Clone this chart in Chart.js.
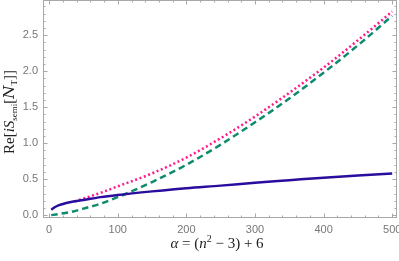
<!DOCTYPE html>
<html><head><meta charset="utf-8">
<script src="https://cdn.jsdelivr.net/npm/chart.js@4.4.1/dist/chart.umd.min.js"></script>
<style>html,body{margin:0;padding:0;background:#fff}#wrap{width:399px;height:261px}</style>
</head><body><div id="wrap"><canvas id="c" width="399" height="261"></canvas></div>
<script>
const alphaVals = [3, 10, 20, 30, 50, 75, 100, 150, 200, 250, 300, 350, 400, 450, 500];
const blueVals  = [0.075, 0.12, 0.155, 0.18, 0.21, 0.25, 0.28, 0.33, 0.375, 0.41, 0.45, 0.485, 0.52, 0.55, 0.58];
const greenVals = [0.0, 0.01, 0.025, 0.04, 0.09, 0.16, 0.25, 0.46, 0.70, 0.98, 1.29, 1.62, 1.98, 2.36, 2.77];
const pinkAlpha = [37, 50, 75, 100, 150, 200, 250, 300, 350, 400, 450, 500];
const pinkVals  = [0.19, 0.23, 0.31, 0.40, 0.58, 0.80, 1.07, 1.37, 1.70, 2.05, 2.43, 2.83];
const xTicks = [0, 100, 200, 300, 400, 500];
const yTicks = [0.0, 0.5, 1.0, 1.5, 2.0, 2.5];

const pts = (xs, ys) => xs.map((x, i) => ({x, y: ys[i]}));

const frameTicks = {
  id: 'frameTicks',
  afterDatasetsDraw(chart) {
    const {ctx, chartArea: a, scales: {x, y}} = chart;
    ctx.save();
    ctx.strokeStyle = '#a8a8a8';
    ctx.lineWidth = 1;
    ctx.strokeRect(a.left + 0.5, a.top + 0.5, a.right - a.left - 1, a.bottom - a.top - 1);
    ctx.beginPath();
    for (let v = -20; v <= 520; v += 20) {
      if (v < x.min || v > x.max) continue;
      const px = Math.round(x.getPixelForValue(v)) + 0.5;
      const L = (v % 100 === 0) ? 4.5 : 2.5;
      ctx.moveTo(px, a.bottom); ctx.lineTo(px, a.bottom - L);
      ctx.moveTo(px, a.top); ctx.lineTo(px, a.top + L);
    }
    for (let k = 0; k <= 30; k++) {
      const v = k / 10;
      if (v < y.min || v > y.max) continue;
      const py = Math.round(y.getPixelForValue(v)) + 0.5;
      const L = (k % 5 === 0) ? 4.5 : 2.5;
      ctx.moveTo(a.left, py); ctx.lineTo(a.left + L, py);
      ctx.moveTo(a.right, py); ctx.lineTo(a.right - L, py);
    }
    ctx.stroke();

    // x axis title
    ctx.fillStyle = '#222';
    ctx.textBaseline = 'alphabetic';
    const parts = [
      ['italic 15px "Liberation Serif"', 'α', 0],
      ['15px "Liberation Serif"', ' = (', 0],
      ['italic 15px "Liberation Serif"', 'n', 0],
      ['10px "Liberation Serif"', '2', -6],
      ['15px "Liberation Serif"', ' − 3) + 6', 0]
    ];
    let w = 0;
    parts.forEach(p => { ctx.font = p[0]; w += ctx.measureText(p[1]).width; });
    let cx = 217 - w / 2;
    parts.forEach(p => { ctx.font = p[0]; ctx.fillText(p[1], cx, 248 + p[2]); cx += ctx.measureText(p[1]).width; });

    // y axis title
    ctx.save();
    ctx.translate(14, 112);
    ctx.rotate(-Math.PI / 2);
    const yp = [
      ['15px "Liberation Serif"', 'Re[', 0],
      ['italic 15px "Liberation Serif"', 'i', 0],
      ['italic 15px "Liberation Serif"', 'S', 0],
      ['9px "Liberation Serif"', 'semi', 3],
      ['15px "Liberation Serif"', '[', 0],
      ['italic 15px "DejaVu Serif"', 'N', 0],
      ['9px "Liberation Serif"', 'T', 3],
      ['15px "Liberation Serif"', ']]', 0]
    ];
    w = 0;
    yp.forEach(p => { ctx.font = p[0]; w += ctx.measureText(p[1]).width; });
    cx = -w / 2;
    yp.forEach(p => { ctx.font = p[0]; ctx.fillText(p[1], cx, 0 + p[2]); cx += ctx.measureText(p[1]).width; });
    ctx.restore();
    ctx.restore();
  }
};

const noPad = s => { s.paddingTop = 0; s.paddingBottom = 0; s.paddingLeft = 0; s.paddingRight = 0; };

new Chart(document.getElementById('c'), {
  type: 'line',
  data: {
    datasets: [
      {data: pts(alphaVals, blueVals), borderColor: '#2a0c9e', borderWidth: 2.5, pointRadius: 0, cubicInterpolationMode: 'monotone'},
      {data: pts(pinkAlpha, pinkVals), borderColor: '#ff1a8c', borderWidth: 2.5, borderDash: [2, 2.6], pointRadius: 0, cubicInterpolationMode: 'monotone'},
      {data: pts(alphaVals, greenVals), borderColor: '#0e8a6c', borderWidth: 2.5, borderDash: [6.5, 4], pointRadius: 0, cubicInterpolationMode: 'monotone'}
    ]
  },
  options: {
    responsive: false,
    animation: false,
    parsing: false,
    layout: {autoPadding: false, padding: {top: 0, right: 2, left: 0, bottom: 0}},
    plugins: {legend: {display: false}, tooltip: {enabled: false}},
    scales: {
      x: {
        type: 'linear', min: -9, max: 507,
        grid: {display: false, drawTicks: false},
        border: {display: false},
        afterBuildTicks: s => { s.ticks = xTicks.map(v => ({value: v})); },
        afterFit: s => { s.height = 43; noPad(s); },
        ticks: {color: '#777', font: {family: 'Liberation Sans', size: 11}, padding: 5, callback: v => String(v), maxRotation: 0}
      },
      y: {
        type: 'linear', min: -0.04, max: 2.99,
        grid: {display: false, drawTicks: false},
        border: {display: false},
        afterBuildTicks: s => { s.ticks = yTicks.map(v => ({value: v})); },
        afterFit: s => { s.width = 43; noPad(s); },
        ticks: {color: '#777', font: {family: 'Liberation Sans', size: 11}, padding: 5, callback: v => v.toFixed(1)}
      }
    }
  },
  plugins: [frameTicks]
});
</script></body></html>
